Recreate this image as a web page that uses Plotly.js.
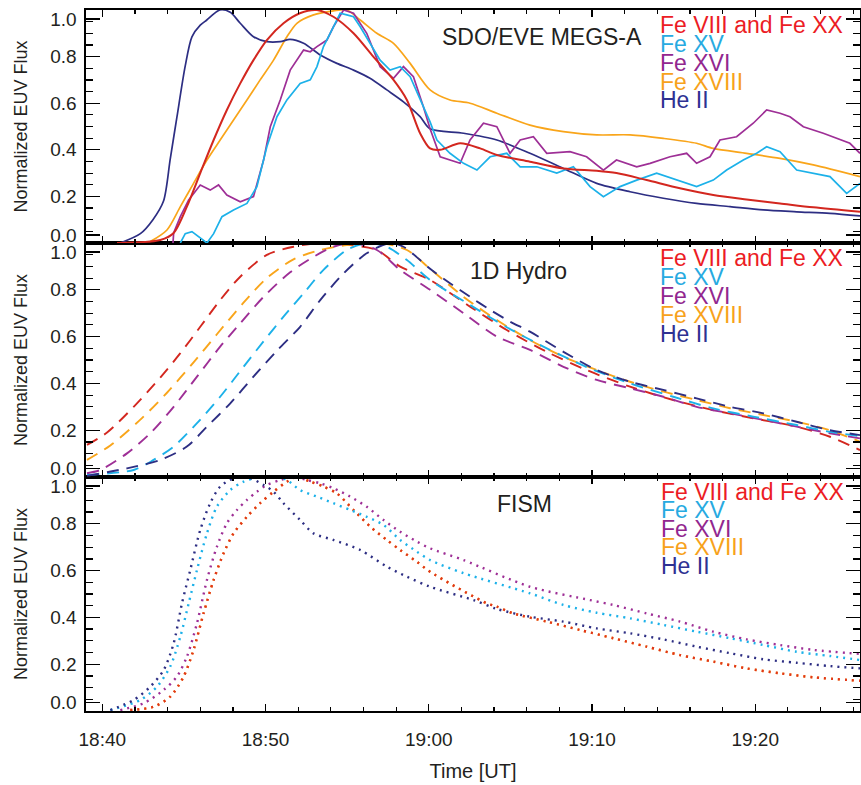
<!DOCTYPE html>
<html>
<head>
<meta charset="utf-8">
<script src="https://cdn.plot.ly/plotly-3.0.1.min.js"></script>
<style>html,body{margin:0;padding:0;background:#fff;}#chart{width:861px;height:785px;}</style>
</head>
<body>
<div id="chart"></div>
<script>
// ---- labels ----
const seriesNames = ["Fe VIII and Fe XX", "Fe XV", "Fe XVI", "Fe XVIII", "He II"];
const panelTitles = ["SDO/EVE MEGS-A", "1D Hydro", "FISM"];
const xTickLabels = ["18:40", "18:50", "19:00", "19:10", "19:20"];
const xTickMinutes = [40, 50, 60, 70, 80];          // minutes after 18:00 UT
const yTickLabels = ["0.0", "0.2", "0.4", "0.6", "0.8", "1.0"];
const xTitle = "Time [UT]";
const yTitle = "Normalized EUV Flux";

// ---- SDO/EVE MEGS-A (time in minutes after 18:00 UT) ----
const eveFe8_t = [40.9,43.55,44.37,45.18,46.0,46.82,47.63,48.45,49.26,50.08,51.1,52.1,53.15,54.16,55.39,56.6,57.84,58.66,59.47,60.08,60.7,61.92,63.15,64.17,66.2,68.25,70.29,71.5,73.35,75.39,77.43,79.47,81.52,83.56,86.42];
const eveFe8_v = [0,0.013,0.043,0.156,0.3,0.442,0.571,0.685,0.785,0.871,0.943,0.986,1.0,0.971,0.9,0.8,0.7,0.614,0.471,0.406,0.40,0.428,0.406,0.378,0.349,0.32,0.31,0.3,0.27,0.235,0.206,0.187,0.17,0.153,0.134];
const eveFe15_t = [44.78,45.08,45.49,46.0,46.41,46.82,47.33,48.04,48.86,49.47,50.08,50.7,51.31,52.12,52.74,53.15,53.55,54.16,54.57,54.98,55.39,55.8,56.41,57.02,57.63,58.25,58.86,59.47,60.08,60.5,61.3,62.13,62.95,63.76,64.78,65.6,66.62,67.84,68.86,69.88,70.7,71.72,72.74,73.96,75.19,76.41,77.43,78.25,79.27,80.09,80.7,81.52,82.54,83.56,84.58,85.6,86.42];
const eveFe15_v = [0,0.04,0.049,0.02,0.0,0.04,0.113,0.142,0.17,0.242,0.413,0.542,0.614,0.685,0.7,0.757,0.843,0.928,0.986,0.979,0.971,0.928,0.857,0.785,0.742,0.757,0.714,0.614,0.52,0.442,0.385,0.342,0.313,0.37,0.385,0.327,0.327,0.3,0.327,0.242,0.199,0.242,0.27,0.3,0.27,0.242,0.27,0.313,0.356,0.385,0.413,0.392,0.313,0.3,0.285,0.213,0.256];
const eveFe16_t = [44.33,44.37,44.78,45.29,46.0,46.61,47.12,47.63,48.45,49.26,49.88,50.29,50.9,51.51,52.33,52.74,53.15,53.76,54.16,54.78,55.39,56.2,57.02,57.84,58.45,59.06,59.67,60.08,60.7,61.92,62.53,63.35,64.17,64.98,65.6,66.41,67.23,68.65,69.67,70.7,71.5,72.74,73.56,74.78,75.8,76.41,77.23,77.84,78.86,79.88,80.7,81.52,82.13,82.95,84.17,85.19,85.8,86.42];
const eveFe16_v = [0,0.043,0.113,0.185,0.249,0.227,0.249,0.206,0.177,0.199,0.356,0.499,0.614,0.742,0.828,0.821,0.843,0.871,0.928,1.0,0.986,0.9,0.757,0.707,0.757,0.714,0.585,0.49,0.37,0.342,0.442,0.514,0.499,0.385,0.442,0.456,0.385,0.392,0.37,0.313,0.356,0.327,0.342,0.37,0.385,0.342,0.37,0.442,0.456,0.514,0.571,0.557,0.542,0.499,0.471,0.442,0.428,0.385];
const eveFe18_t = [42.94,43.96,44.78,45.59,46.41,47.22,48.04,48.86,49.67,50.49,51.31,51.92,52.94,54.16,54.98,55.8,56.82,57.84,58.86,60.08,61.3,62.53,64.17,66.2,68.25,70.29,72.33,74.37,76.41,77.43,79.47,81.52,83.56,86.42];
const eveFe18_v = [0.006,0.056,0.156,0.256,0.356,0.442,0.528,0.614,0.7,0.785,0.885,0.943,0.979,0.996,1.0,0.957,0.9,0.857,0.771,0.657,0.614,0.6,0.557,0.506,0.478,0.464,0.464,0.449,0.428,0.406,0.385,0.363,0.335,0.285];
const eveHeII_t = [41.1,42.33,43.1,43.75,44.16,44.57,45.08,45.49,46.0,46.4,47.2,47.84,48.45,49.26,50.08,50.9,51.5,52.33,53.35,54.37,55.39,56.4,57.43,58.45,59.47,60.08,62.13,64.17,66.2,68.25,70.29,72.33,74.37,76.41,78.46,80.5,82.54,84.58,86.42];
const eveHeII_v = [0,0.04,0.10,0.18,0.36,0.54,0.76,0.885,0.935,0.957,1.0,0.99,0.943,0.885,0.864,0.864,0.874,0.857,0.807,0.771,0.742,0.707,0.657,0.606,0.542,0.49,0.471,0.442,0.385,0.32,0.256,0.22,0.192,0.17,0.156,0.142,0.134,0.127,0.116];

// ---- 1D Hydro ----
const hyFe8_t = [39.06,40.29,41.92,43.55,44.78,46.0,47.22,48.45,50.08,51.71,53.35,55.19,56.82,58.25,60.08,62.53,64.78,67.23,69.67,72.33,74.98,77.43,79.88,82.54,84.58,86.42];
const hyFe8_v = [0.137,0.19,0.30,0.425,0.529,0.642,0.756,0.856,0.949,0.984,1.0,0.991,0.97,0.899,0.842,0.728,0.628,0.535,0.457,0.386,0.329,0.286,0.251,0.215,0.172,0.115];
const hyFe15_t = [39.06,41.92,43.14,44.37,45.8,47.22,48.65,49.88,51.1,52.33,53.55,54.98,56.2,57.43,58.66,60.08,62.53,64.78,67.23,69.67,72.33,74.98,77.43,79.88,82.54,84.58,86.42];
const hyFe15_v = [0.009,0.03,0.073,0.13,0.23,0.343,0.471,0.58,0.685,0.785,0.885,0.97,1.0,0.984,0.927,0.842,0.735,0.64,0.55,0.47,0.40,0.343,0.293,0.258,0.222,0.193,0.175];
const hyFe16_t = [39.06,39.88,41.51,42.94,44.37,45.8,47.22,48.45,49.88,51.51,52.94,54.16,55.39,56.82,58.25,60.08,62.13,64.17,66.2,68.25,70.29,72.33,74.37,76.41,78.46,80.5,82.54,84.58,86.42];
const hyFe16_v = [0.016,0.03,0.101,0.187,0.3,0.429,0.557,0.657,0.77,0.875,0.941,0.984,1.0,0.97,0.885,0.8,0.7,0.6,0.543,0.471,0.415,0.379,0.343,0.3,0.272,0.244,0.215,0.187,0.165];
const hyFe18_t = [39.06,40.49,42.33,43.96,45.59,47.02,48.65,50.08,51.71,53.35,54.98,57.02,58.66,60.08,62.13,64.17,66.2,68.25,70.29,72.33,74.37,76.41,78.46,80.5,82.54,84.58,86.42];
const hyFe18_v = [0.073,0.135,0.245,0.36,0.49,0.61,0.745,0.85,0.93,0.97,0.991,1.0,0.97,0.89,0.77,0.671,0.585,0.514,0.457,0.407,0.365,0.329,0.294,0.265,0.236,0.2,0.151];
const hyHeII_t = [39.06,41.51,43.55,45.18,46.41,47.84,49.26,50.7,52.12,53.35,54.78,56.2,57.63,58.45,59.47,60.08,61.3,62.53,63.76,64.98,66.2,68.25,70.29,72.33,74.37,76.41,78.46,80.5,82.54,84.58,86.42];
const hyHeII_v = [0.005,0.037,0.073,0.13,0.215,0.315,0.429,0.54,0.642,0.756,0.87,0.956,1.0,0.984,0.927,0.89,0.828,0.77,0.714,0.664,0.621,0.535,0.457,0.407,0.372,0.336,0.3,0.272,0.236,0.2,0.179];

// ---- FISM ----
const fiFe8_t = [41.71,43.14,44.16,44.98,45.59,46.2,46.82,47.43,48.04,48.86,49.67,50.49,51.31,51.92,52.74,53.55,54.37,55.39,56.41,57.43,58.25,59.27,60.08,63.56,64.17,65.19,67.23,69.27,71.31,73.35,75.39,77.43,79.47,81.52,83.56,86.42];
const fiFe8_v = [0.004,0.018,0.061,0.147,0.261,0.417,0.56,0.674,0.759,0.83,0.888,0.937,0.98,1.0,0.98,0.959,0.93,0.859,0.788,0.731,0.688,0.638,0.595,0.46,0.446,0.417,0.382,0.346,0.311,0.275,0.239,0.211,0.182,0.161,0.144,0.129];
const fiFe15_t = [40.49,42.33,43.35,44.16,44.78,45.29,45.8,46.41,47.02,47.84,48.65,49.67,50.7,51.31,52.12,53.15,54.16,55.19,56.2,57.23,58.25,59.27,60.08,62.13,66.2,68.25,70.29,72.33,74.37,76.41,78.46,80.5,82.54,84.58,86.42];
const fiFe15_v = [0.004,0.047,0.104,0.19,0.318,0.46,0.603,0.759,0.873,0.944,0.98,1.0,1.0,0.987,0.944,0.916,0.888,0.859,0.83,0.795,0.731,0.681,0.645,0.589,0.503,0.453,0.42,0.396,0.368,0.339,0.311,0.282,0.253,0.235,0.218];
const fiFe16_t = [41.1,42.53,43.76,44.57,45.18,45.8,46.41,47.02,47.63,48.25,48.86,49.47,50.08,50.9,51.71,52.53,53.35,54.16,55.19,56.2,57.23,58.25,59.27,60.08,62.13,66.2,69.88,71.31,73.35,75.39,77.43,79.47,81.52,83.56,86.42];
const fiFe16_v = [0.004,0.033,0.09,0.147,0.232,0.375,0.56,0.702,0.802,0.859,0.902,0.937,0.966,0.987,1.0,0.987,0.973,0.952,0.916,0.873,0.816,0.766,0.724,0.695,0.645,0.531,0.474,0.453,0.417,0.382,0.339,0.306,0.282,0.261,0.244];
const fiFe18_t = [41.71,43.14,44.16,44.98,45.59,46.2,46.82,47.43,48.04,48.86,49.67,50.49,51.31,51.92,52.74,53.55,54.37,55.39,56.41,57.43,58.25,59.27,60.08,63.56,64.17,65.19,67.23,69.27,71.31,73.35,75.39,77.43,79.47,81.52,83.56,86.42];
const fiFe18_v = [0.004,0.018,0.061,0.147,0.261,0.417,0.56,0.674,0.759,0.83,0.888,0.937,0.98,1.0,0.98,0.959,0.93,0.859,0.788,0.731,0.688,0.638,0.595,0.46,0.446,0.417,0.382,0.346,0.311,0.275,0.239,0.211,0.182,0.161,0.144,0.129];
const fiHeII_t = [40.49,41.92,42.94,43.76,44.37,44.88,45.39,46.0,46.61,47.22,48.04,48.86,49.88,50.49,51.1,52.12,52.94,54.16,55.8,57.43,58.66,60.08,62.74,64.17,66.2,68.25,70.29,72.33,74.37,76.41,78.46,80.5,82.54,84.58,86.42];
const fiHeII_v = [0.004,0.047,0.104,0.175,0.289,0.46,0.603,0.774,0.888,0.959,0.994,1.0,0.966,0.937,0.888,0.816,0.759,0.731,0.688,0.617,0.574,0.531,0.474,0.436,0.403,0.382,0.353,0.332,0.306,0.275,0.247,0.221,0.206,0.192,0.182];

// ---- styling ----
const FONT = "Liberation Sans, Arial, Helvetica, sans-serif";
const lineColors = {fe8:"#d3271f", fe15:"#1cb1e9", fe16:"#9e2f96", fe18:"#f9a51a", he2:"#2d2e83"};
const textColors = ["#ec1c24", "#27aae1", "#92278f", "#f7a21b", "#2e3192"];

function tr(t, v, color, axis, dash, width, smooth) {
  return {x: t, y: v, type: "scatter", mode: "lines", xaxis: "x" + axis, yaxis: "y" + axis,
          line: {color: color, width: width, dash: dash, shape: smooth ? "spline" : "linear", smoothing: 0.8},
          showlegend: false, hoverinfo: "skip"};
}
// axis suffixes: "3" top, "2" middle, "" bottom
const SOLID = "solid", DASH = "12px,8px", DOT = "2px,5px";
const traces = [
  tr(eveFe18_t, eveFe18_v, lineColors.fe18, "3", SOLID, 1.7, true),
  tr(eveHeII_t, eveHeII_v, lineColors.he2, "3", SOLID, 1.7, true),
  tr(eveFe16_t, eveFe16_v, lineColors.fe16, "3", SOLID, 1.7, false),
  tr(eveFe15_t, eveFe15_v, lineColors.fe15, "3", SOLID, 1.7, false),
  tr(eveFe8_t, eveFe8_v, lineColors.fe8, "3", SOLID, 2, true),
  tr(hyFe8_t, hyFe8_v, lineColors.fe8, "2", DASH, 1.9, true),
  tr(hyFe18_t, hyFe18_v, lineColors.fe18, "2", DASH, 1.9, true),
  tr(hyFe16_t, hyFe16_v, lineColors.fe16, "2", DASH, 1.9, true),
  tr(hyFe15_t, hyFe15_v, lineColors.fe15, "2", DASH, 1.9, true),
  tr(hyHeII_t, hyHeII_v, lineColors.he2, "2", DASH, 1.9, true),
  tr(fiFe18_t, fiFe18_v, lineColors.fe18, "", DOT, 2.4, true),
  tr(fiFe8_t, fiFe8_v, "#e0341c", "", DOT, 2.4, true),
  tr(fiFe16_t, fiFe16_v, lineColors.fe16, "", DOT, 2.4, true),
  tr(fiFe15_t, fiFe15_v, lineColors.fe15, "", DOT, 2.4, true),
  tr(fiHeII_t, fiHeII_v, lineColors.he2, "", DOT, 2.4, true)
];

const W = 861, H = 785, ML = 86, MR = 1, MT = 10, MB = 74;
const PH = H - MT - MB; // plot height in px
const d1 = 234 / PH, d2 = 468 / PH;

function xAx(showLabels) {
  return {
    range: [39.0, 86.42], tickmode: "array", tickvals: xTickMinutes, ticktext: xTickLabels,
    ticks: "inside", ticklen: 7, tickwidth: 1.3, tickcolor: "#000",
    minor: {ticks: "inside", ticklen: 4, tickwidth: 1.2, tickcolor: "#000", tickmode: "linear", tick0: 40, dtick: 2, showgrid: false},
    showline: true, linecolor: "#000", linewidth: 1.6, mirror: "ticks",
    showgrid: false, zeroline: false, showticklabels: showLabels,
    tickfont: {family: FONT, size: 19, color: "#231f20"}, ticklabelstandoff: 11
  };
}
function yAx(domain, anchor) {
  return {
    domain: domain, anchor: anchor, range: [0, 1],
    tickmode: "array", tickvals: [0.035, 0.2, 0.4, 0.6, 0.8, 0.962], ticktext: yTickLabels,
    ticks: "inside", ticklen: 14, tickwidth: 1.3, tickcolor: "#000",
    minor: {ticks: "inside", ticklen: 7, tickwidth: 1.2, tickcolor: "#000", tickmode: "linear", tick0: 0, dtick: 0.05, showgrid: false},
    showline: true, linecolor: "#000", linewidth: 1.6, mirror: "ticks",
    showgrid: false, zeroline: false,
    tickfont: {family: FONT, size: 19, color: "#231f20"}, ticklabelstandoff: 4,
    title: {text: yTitle, font: {family: FONT, size: 18, color: "#231f20"}, standoff: 18}
  };
}

const annotations = [];
const panelTopPx = [10, 243, 477];
const titleLeftPx = [440, 468, 495];
const titleCenterPx = [36.7, 271, 504];
const legendLeftPx = [657.7, 657.7, 659.3];
const legendSpacing = [19, 19, 18.5];
function px2x(px) { return (px - ML) / (W - ML - MR); }
function py2y(py) { return (H - MB - py) / PH; }
for (let p = 0; p < 3; p++) {
  annotations.push({text: panelTitles[p], xref: "paper", yref: "paper", x: px2x(titleLeftPx[p]), y: py2y(titleCenterPx[p]),
    xanchor: "left", yanchor: "middle", showarrow: false, font: {family: FONT, size: 23, color: "#231f20"}});
  for (let i = 0; i < seriesNames.length; i++) {
    annotations.push({text: seriesNames[i], xref: "paper", yref: "paper", x: px2x(legendLeftPx[p]),
      y: py2y(panelTopPx[p] + 14.5 + legendSpacing[p] * i), xanchor: "left", yanchor: "middle", showarrow: false,
      font: {family: FONT, size: 23, color: textColors[i]}});
  }
}

const xb = xAx(true);
xb.title = {text: xTitle, font: {family: FONT, size: 20, color: "#231f20"}, standoff: 14};
const x2 = xAx(false); x2.matches = "x"; x2.anchor = "y2";
const x3 = xAx(false); x3.matches = "x"; x3.anchor = "y3";
xb.anchor = "y";

const layout = {
  width: W, height: H, margin: {l: ML, r: MR, t: MT, b: MB},
  paper_bgcolor: "#fff", plot_bgcolor: "#fff", showlegend: false,
  font: {family: FONT, color: "#231f20"},
  xaxis: xb, xaxis2: x2, xaxis3: x3,
  yaxis: yAx([0, d1], "x"), yaxis2: yAx([d1, d2], "x2"), yaxis3: yAx([d2, 1], "x3"),
  annotations: annotations
};

Plotly.newPlot("chart", traces, layout, {staticPlot: true, displayModeBar: false});
</script>
</body>
</html>
